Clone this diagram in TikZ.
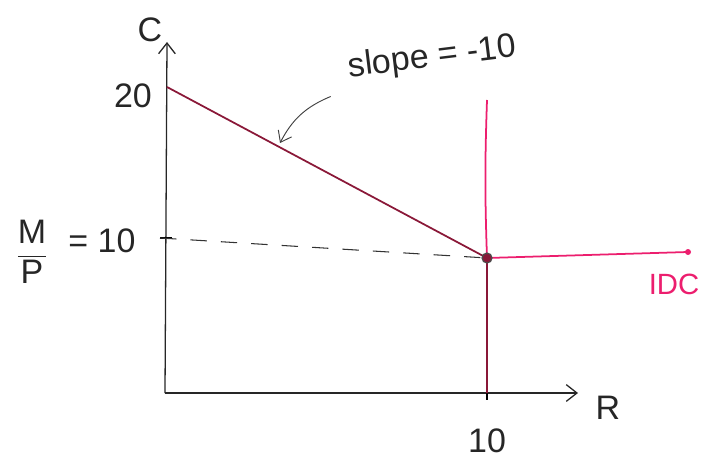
\documentclass[tikz,border=0pt]{standalone}
\usepackage{fontspec}
\setmainfont{Liberation Sans}
\usetikzlibrary{arrows.meta,positioning}
\definecolor{budgetRed}{HTML}{8A1838}
\definecolor{idcPink}{HTML}{EC1E6E}

\begin{document}
\begin{tikzpicture}[
  x=0.03cm, y=-0.03cm,
  axis/.style={line width=1.1pt, black!85, -{Straight Barb[length=3.2mm,width=5mm]}},
  budget/.style={line width=1.5pt, budgetRed},
  idc/.style={line width=1.5pt, idcPink},
  guide/.style={dashed, dash pattern=on 14pt off 12pt, line width=0.9pt, black!80},
  note/.style={line width=0.8pt, black!75, -{Straight Barb[length=3mm,width=4.5mm]}},
  lbl/.style={font=\fontsize{29}{33}\selectfont, inner sep=1pt, black!85},
  lblp/.style={font=\fontsize{25}{29}\selectfont, inner sep=1pt, text=idcPink}
]
\useasboundingbox (0,0) rectangle (713,459);
% axes
\coordinate (O) at (165,393);
\coordinate (ytop) at (167,42);
\coordinate (xend) at (578,393);
\coordinate (A) at (167,87);
\coordinate (E) at (487,258);
\coordinate (tick) at (160,238);
\coordinate (Rtick) at (487,400);
\coordinate (idcTop) at (487,100);
\coordinate (idcEnd) at (688,252);
\coordinate (hit) at (280,143);
\draw[axis] (O) -- (ytop);
\draw[axis] (O) -- (xend);
\draw[line width=1pt] (tick) -- ++(12,0);
\draw[line width=1pt] (487,393) -- (Rtick);
\node[lbl] (lblC) at (150,30) {C};
\node[lbl] (lblR) at (608,408) {R};
\node[lbl] (lbl20) at (133,96) {20};
\node[lbl] (lbl10x) at (487,441) {10};
\node[lbl] (lbl10y) at (102,241) {= 10};
\node[lbl] (lblMP) at (32,252) {$\displaystyle\frac{\mathrm{M}}{\mathrm{P}}$};
% budget line and guide
\draw[guide] (tick) -- (E);
\draw[budget] (A) -- (E) -- (O -| E);
% IDC
\draw[idc] (idcTop) to[bend right=2] (E);
\draw[idc] (E) -- (idcEnd);
\fill[idcPink] (idcEnd) circle (3);
\filldraw[fill=budgetRed, draw=black!70, line width=1pt] (E) circle (5);
\node[lblp] (lblIDC) at (674,284) {IDC};
% slope note
\node[lbl, rotate=7] (slope) at (432,58) {slope = -10};
\draw[note] (slope.west) ++(-16,28) to[bend right=20] (hit);
\end{tikzpicture}
\end{document}
